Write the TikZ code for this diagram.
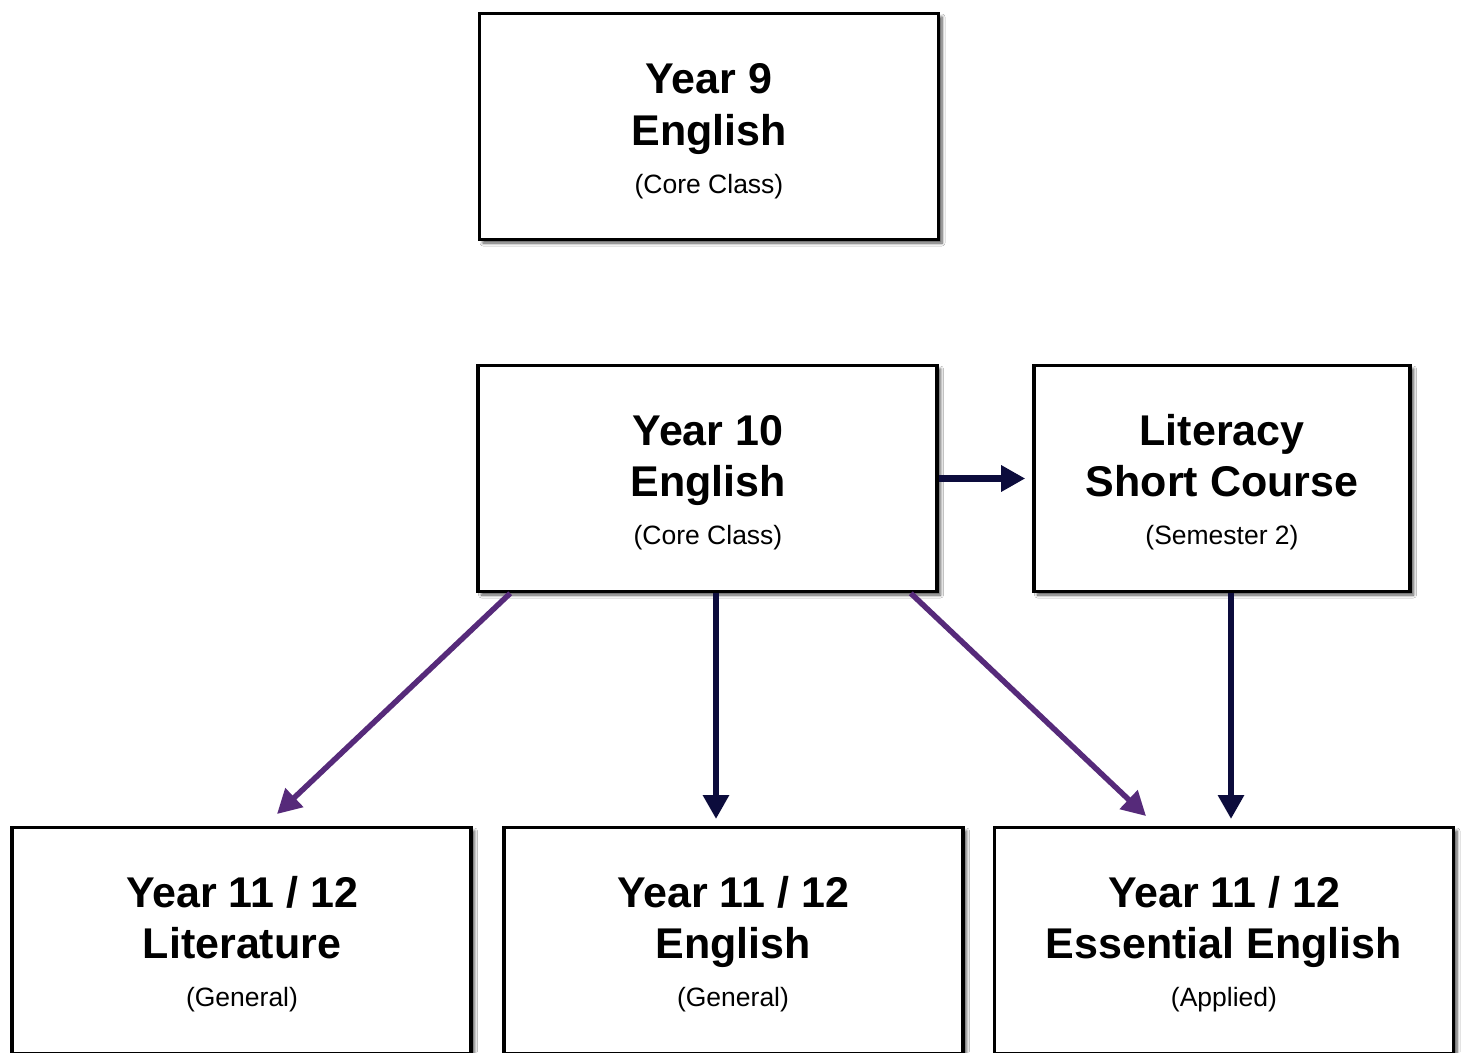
\documentclass[tikz,border=0pt]{standalone}
\usepackage{fontspec}
\setmainfont{Liberation Sans}
\usetikzlibrary{arrows.meta,shadows.blur}

\definecolor{navy}{HTML}{0C0C3C}
\definecolor{plum}{HTML}{562A7A}

\tikzset{
  course/.style={draw=black, line width=3.6pt, fill=white, rectangle,
    minimum width=459pt, minimum height=226pt, inner sep=0pt,
    blur shadow={shadow xshift=3.5pt, shadow yshift=-3.5pt,
      shadow blur radius=3pt, shadow blur steps=6, shadow opacity=70}},
  title/.style={anchor=base, inner sep=0pt, font=\fontsize{43}{50}\selectfont\bfseries},
  note/.style={anchor=base, inner sep=0pt, font=\fontsize{26.5}{30}\selectfont},
  navyarrow/.style={draw=navy, line width=6.5pt,
    -{Triangle[length=24pt,width=25pt]}},
  plumarrow/.style={draw=plum, line width=5.5pt,
    -{Triangle[length=24pt,width=25pt]}}
}

\begin{document}
\begin{tikzpicture}[x=1pt,y=-1pt]
  \clip (0,0) rectangle (1461,1052);
  \fill[white] (0,0) rectangle (1461,1052);

  % course boxes
  \node[course] (y9)  at (709,126.5) {};
  \node[course] (y10) at (707.5,478.5) {};
  \node[course, minimum width=376pt] (lit) at (1222,478.5) {};
  \node[course] (litr) at (241.5,940.5) {};
  \node[course] (eng)  at (733.5,940.5) {};
  \node[course] (ess)  at (1224,940.5) {};

  % box texts
  \node[title] (y9a) at (709,93)  {Year 9};
  \node[title] (y9b) at (709,145) {English};
  \node[note]  (y9c) at (709,193) {(Core Class)};

  \node[title] (y10a) at (708,445) {Year 10};
  \node[title] (y10b) at (708,496) {English};
  \node[note]  (y10c) at (708,544) {(Core Class)};

  \node[title] (lita) at (1222,445) {Literacy};
  \node[title] (litb) at (1222,496) {Short Course};
  \node[note]  (litc) at (1222,544) {(Semester 2)};

  \node[title] (litra) at (242,907) {Year 11 / 12};
  \node[title] (litrb) at (242,958) {Literature};
  \node[note]  (litrc) at (242,1006) {(General)};

  \node[title] (enga) at (733,907) {Year 11 / 12};
  \node[title] (engb) at (733,958) {English};
  \node[note]  (engc) at (733,1006) {(General)};

  \node[title] (essa) at (1224,907) {Year 11 / 12};
  \node[title] (essb) at (1224,958) {Essential English};
  \node[note]  (essc) at (1224,1006) {(Applied)};

  % arrow tips
  \coordinate (tipLit) at (277,814);
  \coordinate (tipEng) at (716,819);
  \coordinate (tipEssA) at (1146,816);
  \coordinate (tipEssB) at (1231,819);

  % connectors
  \draw[navyarrow] (y10.east) -- ([xshift=-7pt]lit.west);
  \draw[plumarrow] ([xshift=34pt]y10.south west) -- (tipLit);
  \draw[navyarrow] (y10.south -| tipEng) -- (tipEng);
  \draw[plumarrow] ([xshift=-28pt]y10.south east) -- (tipEssA);
  \draw[navyarrow] (lit.south -| tipEssB) -- (tipEssB);
\end{tikzpicture}
\end{document}
